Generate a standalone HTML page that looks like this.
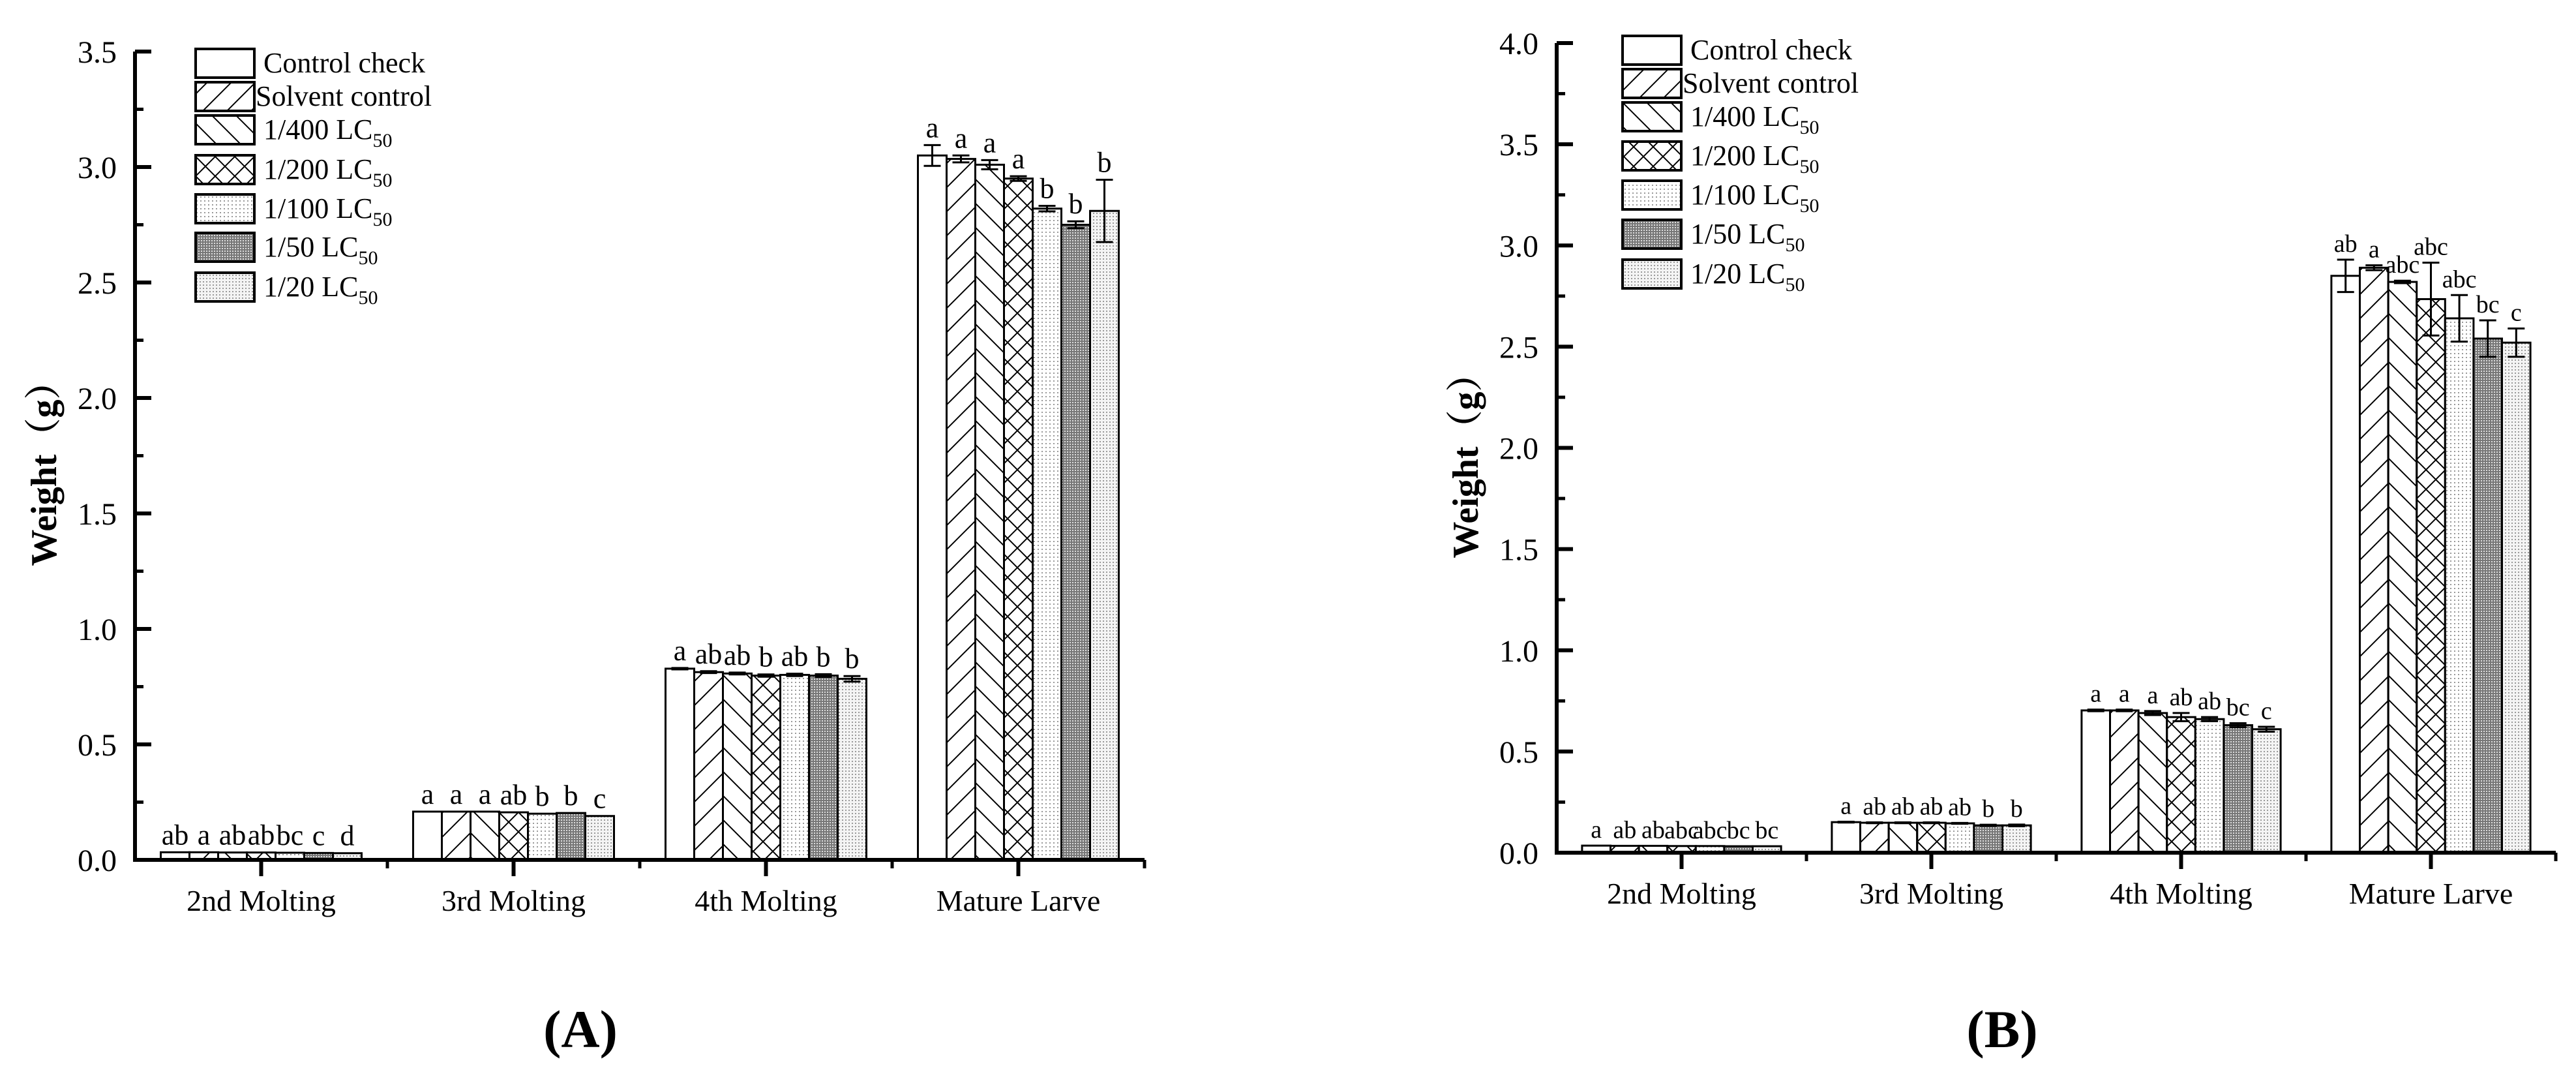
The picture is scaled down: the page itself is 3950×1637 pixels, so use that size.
<!DOCTYPE html>
<html><head><meta charset="utf-8">
<style>
html,body{margin:0;padding:0;background:#fff;}
svg{display:block;}
text{font-family:"Liberation Serif","Noto Serif CJK SC",serif;}
</style></head>
<body>
<svg id="chart" width="3950" height="1637" viewBox="0 0 3950 1637" xmlns="http://www.w3.org/2000/svg">
<defs>
<pattern id="p1" patternUnits="userSpaceOnUse" width="37" height="37"><path d="M-5,42 L42,-5 M-5,5 L5,-5 M32,42 L42,32" stroke="#000" stroke-width="2"/></pattern>
<pattern id="p2" patternUnits="userSpaceOnUse" width="37" height="37"><path d="M-5,-5 L42,42 M-5,32 L5,42 M32,-5 L42,5" stroke="#000" stroke-width="2"/></pattern>
<pattern id="p3" patternUnits="userSpaceOnUse" width="30" height="30"><path d="M-5,-5 L35,35 M-5,35 L35,-5" stroke="#000" stroke-width="2"/></pattern>
<pattern id="p4" patternUnits="userSpaceOnUse" width="6" height="6"><rect width="6" height="6" fill="#fff"/><rect x="1" y="1" width="2" height="2" fill="#999"/></pattern>
<pattern id="p5" patternUnits="userSpaceOnUse" width="4" height="4"><rect width="4" height="4" fill="#777"/><rect x="0" y="0" width="2" height="2" fill="#ddd"/></pattern>
<pattern id="p6" patternUnits="userSpaceOnUse" width="5" height="5"><rect width="5" height="5" fill="#f4f4f4"/><rect x="1" y="1" width="2" height="2" fill="#999"/></pattern>
</defs>
</svg>
<script>
const categories = ["2nd Molting","3rd Molting","4th Molting","Mature Larve"];
const seriesNames = ["Control check","Solvent control","1/400 LC","1/200 LC","1/100 LC","1/50 LC","1/20 LC"];
const fills = ["#fff","url(#p1)","url(#p2)","url(#p3)","url(#p4)","url(#p5)","url(#p6)"];

const valuesA = [
  [0.033,0.033,0.032,0.032,0.031,0.030,0.029],
  [0.209,0.209,0.209,0.206,0.200,0.203,0.190],
  [0.828,0.813,0.807,0.798,0.801,0.798,0.784],
  [3.05,3.035,3.01,2.95,2.82,2.75,2.81]
];
const errorsA = [
  [0,0,0,0,0,0,0],
  [0,0,0,0,0,0,0],
  [0.003,0.004,0.004,0.005,0.005,0.006,0.012],
  [0.045,0.015,0.02,0.01,0.012,0.015,0.135]
];
const lettersA = [
  ["ab","a","ab","ab","bc","c","d"],
  ["a","a","a","ab","b","b","c"],
  ["a","ab","ab","b","ab","b","b"],
  ["a","a","a","a","b","b","b"]
];
const valuesB = [
  [0.035,0.034,0.034,0.033,0.033,0.032,0.032],
  [0.151,0.148,0.148,0.148,0.145,0.135,0.135],
  [0.703,0.703,0.69,0.67,0.66,0.63,0.61],
  [2.85,2.89,2.82,2.735,2.64,2.54,2.52]
];
const errorsB = [
  [0,0,0,0,0,0,0],
  [0.002,0.002,0.002,0.002,0.002,0.003,0.004],
  [0.004,0.004,0.01,0.02,0.01,0.01,0.012],
  [0.08,0.012,0.006,0.18,0.115,0.09,0.07]
];
const lettersB = [
  ["a","ab","ab","abc","abc","bc","bc"],
  ["a","ab","ab","ab","ab","b","b"],
  ["a","a","a","ab","ab","bc","c"],
  ["ab","a","abc","abc","abc","bc","c"]
];
const ticksA = ["0.0","0.5","1.0","1.5","2.0","2.5","3.0","3.5"];
const ticksB = ["0.0","0.5","1.0","1.5","2.0","2.5","3.0","3.5","4.0"];

const svg = document.getElementById('chart');
const NS = "http://www.w3.org/2000/svg";
const FF = '"Liberation Serif","Noto Serif CJK SC",serif';
function mk(tag, attrs, parent){
  const e = document.createElementNS(NS, tag);
  for (const k in attrs) e.setAttribute(k, attrs[k]);
  if (tag === 'text') e.setAttribute('font-family', FF);
  (parent||svg).appendChild(e);
  return e;
}

function panel(p, vals, errs, lets, ticks){
  const g = mk('g', {});
  
  
  const ymax = parseFloat(ticks[ticks.length-1]);
  const y = v => p.y0 - (p.y0 - p.yTop) * v / ymax;
  const catX = i => p.x0 + p.step * (i + 0.5);
  const barW = p.barW;
  vals.forEach((grp, ci) => {
    grp.forEach((v, si) => {
      const bx = catX(ci) - barW*3.5 + barW*si;
      const r = mk('rect', {x:bx, y:y(v), width:barW, height:p.y0 - y(v), fill:fills[si], stroke:'#000', 'stroke-width':3}, g);
      
      
      const e = errs[ci][si];
      const cx = bx + barW/2;
      if (e > 0) {
        const eg = mk('path', {d:`M${cx},${y(v+e)} L${cx},${y(v-e)} M${cx-13},${y(v+e)} L${cx+13},${y(v+e)} M${cx-13},${y(v-e)} L${cx+13},${y(v-e)}`, stroke:'#000', 'stroke-width':3, fill:'none'}, g);
        
        
      }
      const t = mk('text', {x:cx, y:y(v+e) - 12, 'font-size':p.letterSize, 'text-anchor':'middle'}, g);
      t.textContent = lets[ci][si];
      
      
    });
  });
  const xEnd = p.x0 + p.step*4;
  const ax = mk('path', {d:`M${p.x0},${p.yTop} L${p.x0},${p.y0} L${xEnd},${p.y0}`, stroke:'#000', 'stroke-width':6, fill:'none'}, g);
  
  
  ticks.forEach((lab, i) => {
    const v = parseFloat(lab);
    mk('line', {x1:p.x0, x2:p.x0+25, y1:y(v), y2:y(v), stroke:'#000', 'stroke-width':6}, g);
    if (i < ticks.length-1) mk('line', {x1:p.x0, x2:p.x0+13, y1:y(v+0.25), y2:y(v+0.25), stroke:'#000', 'stroke-width':5}, g);
    const t = mk('text', {x:p.x0 - 28, y:y(v) + 17, 'font-size':48, 'text-anchor':'end'}, g);
    t.textContent = lab;
    
    
  });
  categories.forEach((c, i) => {
    mk('line', {x1:catX(i), x2:catX(i), y1:p.y0, y2:p.y0+25, stroke:'#000', 'stroke-width':6}, g);
    mk('line', {x1:p.x0+p.step*(i+1), x2:p.x0+p.step*(i+1), y1:p.y0, y2:p.y0+13, stroke:'#000', 'stroke-width':5}, g);
    const t = mk('text', {x:catX(i), y:p.y0 + 78, 'font-size':46, 'text-anchor':'middle'}, g);
    t.textContent = c;
    
    
  });
  const yt = mk('text', {x:0, y:0, 'font-size':56, 'font-weight':'bold', 'text-anchor':'middle', transform:`translate(${p.titleX},${p.titleY}) rotate(-90)`}, g);
  yt.textContent = 'Weight（g）';
  
  
  seriesNames.forEach((n, i) => {
    const ly = p.legTops[i];
    const r = mk('rect', {x:p.legX, y:ly, width:90, height:44, fill:fills[i], stroke:'#000', 'stroke-width':4}, g);
    
    
    const t = mk('text', {x:p.legX + (i===1 ? 92 : 104), y:ly + 36, 'font-size':44}, g);
    
    
    t.textContent = n;
    if (i >= 2) {
      const s = mk('tspan', {'font-size':30, dy:12}, t);
      s.textContent = '50';
    }
  });
  const lab = mk('text', {x:p.labX, y:1605, 'font-size':82, 'font-weight':'bold', 'text-anchor':'middle'}, g);
  lab.textContent = '(' + p.id + ')';
  
  
}

panel({id:'A', x0:207, y0:1318, yTop:79, step:387, barW:44, letterSize:44, titleX:86, titleY:712,
  legX:300, legTops:[75,126,177,238,298,357,418], labX:890}, valuesA, errorsA, lettersA, ticksA);
panel({id:'B', x0:2387, y0:1307, yTop:66, step:383, barW:43.6, letterSize:38, titleX:2266, titleY:700,
  legX:2488, legTops:[55,106,157,217,277,337,398], labX:3070}, valuesB, errorsB, lettersB, ticksB);
</script>
</body></html>
